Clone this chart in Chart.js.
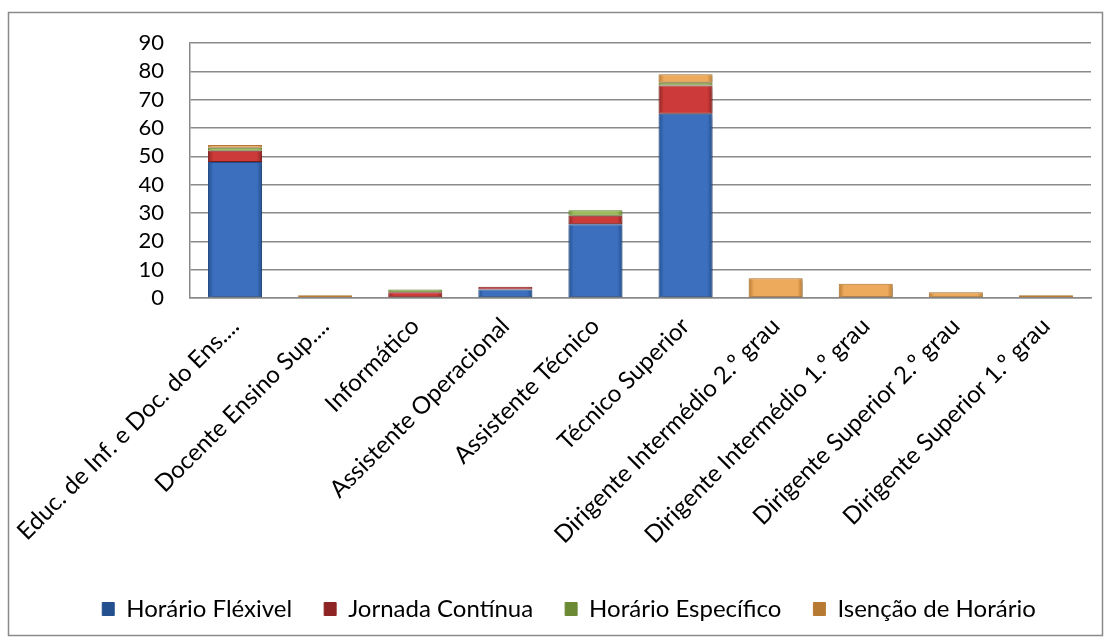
<!DOCTYPE html>
<html>
<head>
<meta charset="utf-8">
<script src="https://cdn.jsdelivr.net/npm/chart.js@4/dist/chart.umd.min.js"></script>
<style>
  html, body { margin: 0; padding: 0; background: #ffffff; }
  #wrap { width: 1110px; height: 639px; position: relative; overflow: hidden; }
</style>
</head>
<body>
<div id="wrap"><canvas id="c" width="1110" height="639"></canvas></div>
<script>
// Categories (careers) and staff counts per working-time regime
const categories = [
  "Educ. de Inf. e Doc. do Ens....",
  "Docente Ensino Sup....",
  "Informático",
  "Assistente Operacional",
  "Assistente Técnico",
  "Técnico Superior",
  "Dirigente Intermédio 2.º grau",
  "Dirigente Intermédio 1.º grau",
  "Dirigente Superior 2.º grau",
  "Dirigente Superior 1.º grau"
];
const horarioFlexivel   = [48, null, null, 3, 26, 65, null, null, null, null];
const jornadaContinua   = [4, null, 2, 1, 3, 10, null, null, null, null];
const horarioEspecifico = [1, null, 1, null, 2, 1, null, null, null, null];
const isencaoHorario    = [1, 1, null, null, null, 3, 7, 5, 2, 1];

const seriesNames = ["Horário Fléxivel", "Jornada Contínua", "Horário Específico", "Isenção de Horário"];
const yMax = 90;
const yStep = 10;

// base / dark shades for each series
const palette = [
  { base: "#3c6fbe", dark: "#24508f" },
  { base: "#cc3b39", dark: "#8e2524" },
  { base: "#9bbb59", dark: "#6b8a33" },
  { base: "#eeaa5c", dark: "#b77a32" }
];

const BAR_PCT = 0.6;

// horizontal shading so each bar looks bevelled
function bevelFill(idx) {
  return function (ctx) {
    const p = palette[idx];
    const chart = ctx.chart;
    const xs = chart.scales && chart.scales.x;
    if (!xs || ctx.dataIndex === undefined || !chart.chartArea) return p.base;
    const cx = xs.getPixelForValue(ctx.dataIndex);
    const half = (xs.width / categories.length) * BAR_PCT / 2;
    if (!isFinite(cx) || !isFinite(half) || half <= 0) return p.base;
    const g = chart.ctx.createLinearGradient(cx - half, 0, cx + half, 0);
    g.addColorStop(0, p.dark);
    g.addColorStop(0.1, p.base);
    g.addColorStop(0.9, p.base);
    g.addColorStop(1, p.dark);
    return g;
  };
}

const dataSeries = [horarioFlexivel, jornadaContinua, horarioEspecifico, isencaoHorario];
const datasets = dataSeries.map((values, i) => ({
  label: seriesNames[i],
  data: values,
  backgroundColor: bevelFill(i),
  borderColor: palette[i].dark,
  borderWidth: 1,
  borderSkipped: false,
  categoryPercentage: 1,
  barPercentage: BAR_PCT
}));

// outer frame around the whole chart
const framePlugin = {
  id: "frame",
  beforeDraw(chart) {
    const c = chart.ctx;
    c.save();
    c.fillStyle = "#ffffff";
    c.fillRect(0, 0, chart.width, chart.height);
    c.strokeStyle = "#8a8a8a";
    c.lineWidth = 1.5;
    c.strokeRect(8.5, 12.5, 1094, 623);
    c.restore();
  }
};

// soft drop shadow beneath the bars
const shadowPlugin = {
  id: "barShadow",
  beforeDatasetsDraw(chart) {
    const c = chart.ctx;
    c.save();
    c.shadowColor = "rgba(0,0,0,0.30)";
    c.shadowBlur = 4;
    c.shadowOffsetX = 1;
    c.shadowOffsetY = 2;
  },
  afterDatasetsDraw(chart) {
    chart.ctx.restore();
  }
};

const FONT = "Lato, 'Open Sans', sans-serif";

new Chart(document.getElementById("c"), {
  type: "bar",
  data: { labels: categories, datasets },
  plugins: [framePlugin, shadowPlugin],
  options: {
    responsive: false,
    animation: false,
    devicePixelRatio: 1,
    layout: { padding: { top: 43, left: 47, right: 19, bottom: 8 } },
    plugins: {
      tooltip: { enabled: false },
      legend: {
        position: "bottom",
        labels: {
          color: "#000000",
          font: { family: FONT, size: 24 },
          boxWidth: 12,
          boxHeight: 13,
          padding: 32
        }
      }
    },
    scales: {
      x: {
        stacked: true,
        grid: { display: false },
        border: { display: true, color: "#8a8a8a", width: 1.5 },
        ticks: {
          color: "#000000",
          font: { family: FONT, size: 24 },
          autoSkip: false,
          minRotation: 45,
          maxRotation: 45,
          padding: 6
        },
        afterFit(scale) { scale.height = 267; }
      },
      y: {
        stacked: true,
        min: 0,
        max: yMax,
        grid: { color: "#8a8a8a", lineWidth: 1.5, drawTicks: false },
        border: { display: true, color: "#8a8a8a", width: 1.5 },
        ticks: {
          stepSize: yStep,
          autoSkip: false,
          color: "#000000",
          font: { family: FONT, size: 22 },
          padding: 26
        },
        afterFit(scale) { scale.width = 143; }
      }
    }
  }
});
</script>
</body>
</html>
